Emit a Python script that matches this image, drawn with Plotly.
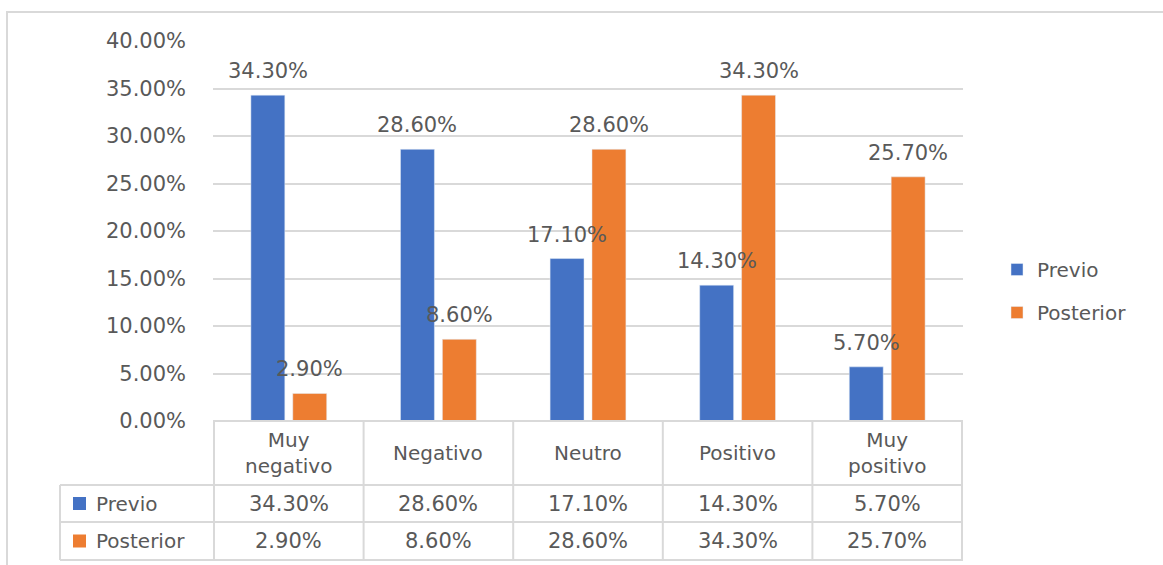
import plotly.graph_objects as go

categories = ["Muy negativo", "Negativo", "Neutro", "Positivo", "Muy positivo"]
category_labels = ["Muy<br>negativo", "Negativo", "Neutro", "Positivo", "Muy<br>positivo"]
series_names = ["Previo", "Posterior"]
previo = [0.343, 0.286, 0.171, 0.143, 0.057]
posterior = [0.029, 0.086, 0.286, 0.343, 0.257]
tick_vals = [0, 0.05, 0.10, 0.15, 0.20, 0.25, 0.30, 0.35, 0.40]

colors = ["#4472C4", "#ED7D31"]
series_values = [previo, posterior]
TXT = "#595959"
GRID = "#d9d9d9"
FONT = "DejaVu Sans"
FS = 20
FSN = 21

W, H = 1163, 565
L, R, T, B = 213, 963, 41, 421  # plot area in pixels
BARGAP, BARGROUPGAP = 0.44, 0.19


def px_x(p):
    return (p - L) / (R - L)


def px_y(p):
    return (B - p) / (B - T)


fig = go.Figure()
for name, vals, col in zip(series_names, series_values, colors):
    fig.add_trace(go.Bar(
        x=categories, y=vals, name=name, marker_color=col,
        legendgroup=name, hoverinfo="x+y+name",
    ))

shapes = []
annotations = []
line = dict(color=GRID, width=2)

# Data labels above bars
cat_px = (R - L) / len(categories)
offset = (1 - BARGAP) * cat_px / 4
for s, vals in enumerate(series_values):
    for cat, v in zip(categories, vals):
        annotations.append(dict(x=cat, xref="x", y=v, yref="y", text=f"{v * 100:.2f}%",
                                showarrow=False, xshift=(-offset if s == 0 else offset),
                                yshift=24, xanchor="center", yanchor="middle",
                                font=dict(family=FONT, size=FSN, color=TXT)))

# Outer chart border
shapes.append(dict(type="rect", xref="paper", yref="paper",
                   x0=px_x(7), x1=px_x(1175), y0=px_y(12), y1=px_y(580),
                   line=dict(color=GRID, width=2), layer="below"))

# Table rows boundaries (pixel rows)
row_tops = [421, 485, 522, 560]
left_col = 60
for i, yp in enumerate(row_tops):
    x0 = px_x(L) if i == 0 else px_x(left_col)
    shapes.append(dict(type="line", xref="paper", yref="paper",
                       x0=x0, x1=px_x(R), y0=px_y(yp), y1=px_y(yp), line=line))
for k in range(len(categories) + 1):
    shapes.append(dict(type="line", xref="x", yref="paper",
                       x0=k - 0.5, x1=k - 0.5, y0=px_y(421), y1=px_y(560), line=line))
shapes.append(dict(type="line", xref="paper", yref="paper",
                   x0=px_x(left_col), x1=px_x(left_col), y0=px_y(485), y1=px_y(560), line=line))

# Header row
for cat, lab in zip(categories, category_labels):
    annotations.append(dict(x=cat, xref="x", y=px_y(453), yref="paper", text=lab,
                            showarrow=False, font=dict(family=FONT, size=FS, color=TXT),
                            xanchor="center", yanchor="middle"))

# Data rows
row_centers = [503.5, 541]
for name, vals, col, yc in zip(series_names, series_values, colors, row_centers):
    shapes.append(dict(type="rect", xref="paper", yref="paper",
                       x0=px_x(73), x1=px_x(86), y0=px_y(yc - 6.5), y1=px_y(yc + 6.5),
                       fillcolor=col, line=dict(width=0)))
    annotations.append(dict(x=px_x(94), xref="paper", y=px_y(yc), yref="paper", text=name,
                            showarrow=False, font=dict(family=FONT, size=FS, color=TXT),
                            xanchor="left", yanchor="middle"))
    for cat, v in zip(categories, vals):
        annotations.append(dict(x=cat, xref="x", y=px_y(yc), yref="paper",
                                text=f"{v * 100:.2f}%",
                                showarrow=False, font=dict(family=FONT, size=FSN, color=TXT),
                                xanchor="center", yanchor="middle"))

fig.update_layout(
    width=W, height=H,
    margin=dict(l=L, r=W - R, t=T, b=H - B, pad=0),
    paper_bgcolor="white", plot_bgcolor="white",
    barmode="group", bargap=BARGAP, bargroupgap=BARGROUPGAP,
    font=dict(family=FONT, size=FS, color=TXT),
    xaxis=dict(showticklabels=False, showgrid=False, ticks="", showline=False),
    yaxis=dict(range=[0, 0.4], tickvals=tick_vals, tickformat=".2%",
               showgrid=True, gridcolor=GRID, gridwidth=1.5,
               zeroline=True, zerolinecolor=GRID, zerolinewidth=2,
               showline=False, ticks="", ticklabelstandoff=26,
               tickfont=dict(family=FONT, size=FSN, color=TXT)),
    legend=dict(x=px_x(997), y=px_y(291), xanchor="left", yanchor="middle",
                traceorder="grouped", tracegroupgap=14,
                font=dict(family=FONT, size=FS, color=TXT), bgcolor="rgba(0,0,0,0)"),
    shapes=shapes, annotations=annotations,
)

fig.write_html("out.html", config={"displayModeBar": False},
               post_script="document.body.style.margin='0';document.body.style.overflow='hidden';")
